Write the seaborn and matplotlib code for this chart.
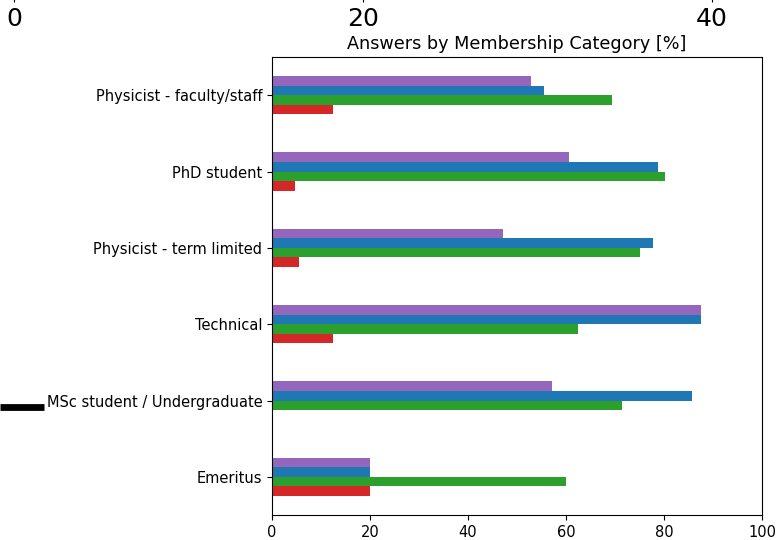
import pandas as pd
import numpy as np
import matplotlib
matplotlib.use("Agg")
import matplotlib.pyplot as plt
from matplotlib.lines import Line2D
import seaborn as sns

# categories, top to bottom
categories = [
    "Physicist - faculty/staff",
    "PhD student",
    "Physicist - term limited",
    "Technical",
    "MSc student / Undergraduate",
    "Emeritus",
]

# answer shares per category [%]
answer_1 = [52.8, 60.6, 47.2, 87.5, 57.1, 20.0]   # purple
answer_2 = [55.6, 78.8, 77.8, 87.5, 85.7, 20.0]   # blue
answer_3 = [69.4, 80.3, 75.0, 62.5, 71.4, 60.0]   # green
answer_4 = [12.5, 4.7, 5.6, 12.5, 0.0, 20.0]      # red

series = {"answer_1": answer_1, "answer_2": answer_2,
          "answer_3": answer_3, "answer_4": answer_4}
colors = {"answer_1": "#9467bd", "answer_2": "#1f77b4",
          "answer_3": "#2ca02c", "answer_4": "#d62728"}

df = pd.DataFrame(series, index=categories).reset_index(names="category")
long_df = df.melt(id_vars="category", var_name="answer", value_name="percent")

W, H = 778, 540
fig = plt.figure(figsize=(W / 100, H / 100), dpi=100)
ax = fig.add_axes([272 / W, 1 - 515 / H, (762 - 272) / W, (515 - 57) / H])

sns.barplot(data=long_df, y="category", x="percent", hue="answer",
            order=categories, hue_order=list(series.keys()),
            palette=colors, orient="h", width=0.5, saturation=1,
            errorbar=None, linewidth=0, legend=False, ax=ax)

ax.set_xlim(0, 100)
ax.set_xticks([0, 20, 40, 60, 80, 100])
ax.set_xlabel("")
ax.set_ylabel("")
ax.set_title("Answers by Membership Category [%]", fontsize=12.7)
ax.tick_params(labelsize=10.5)

# leftover axis peeking in from the top of the figure
ax2 = fig.add_axes([0, 1 + 3 / H, 1, 0.3])
ax2.set_xlim(-0.8, 43.8)
ax2.set_xticks([0, 20, 40])
ax2.tick_params(axis="x", labelsize=18)
ax2.set_yticks([])
for s in ax2.spines.values():
    s.set_visible(False)
ax2.patch.set_visible(False)

# stray black bar on the left
fig.add_artist(Line2D([0, 44 / W], [1 - 407 / H, 1 - 407 / H],
                      transform=fig.transFigure, color="black",
                      linewidth=4.9, solid_capstyle="butt"))

fig.savefig("out.png", dpi=100)
